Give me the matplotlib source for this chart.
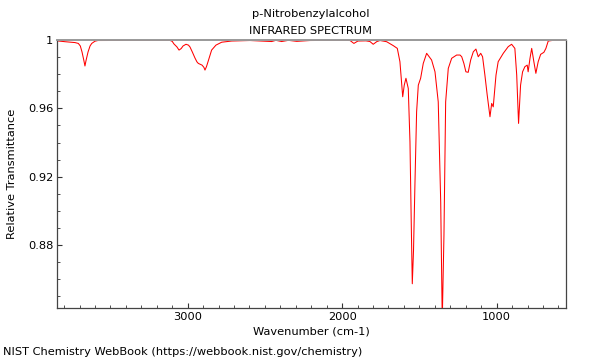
import matplotlib
matplotlib.use("Agg")
import matplotlib.pyplot as plt
from matplotlib.ticker import MultipleLocator, FuncFormatter

# spectrum (wavenumber cm-1, relative transmittance)
wavenumber = [3844, 3794, 3730, 3708, 3695, 3684, 3672, 3665, 3658, 3645,
              3632, 3621, 3600, 3581, 3115, 3100, 3089, 3070,
              3056, 3042, 3030, 3011, 2995, 2985, 2970, 2953, 2940, 2931, 2907, 2895, 2888,
              2878, 2869, 2845,
              2817, 2780, 2715, 2597, 2456, 2429, 2392, 2348, 2294, 2208,
              2014, 1949, 1924, 1898, 1846, 1820, 1799, 1775, 1755, 1712,
              1669, 1643, 1626, 1608, 1598, 1587, 1572, 1561, 1553, 1546,
              1538, 1529, 1518, 1507, 1492, 1475, 1453, 1421, 1399, 1378,
              1362, 1352, 1341, 1330, 1313, 1291, 1259, 1237, 1226, 1212,
              1199, 1184, 1168, 1151, 1134, 1119, 1103, 1091, 1076, 1061,
              1043, 1032, 1022, 1004, 990, 957, 925, 903, 882, 870,
              858, 845, 832, 817, 802, 796, 784, 773, 759, 746,
              731, 715, 694, 681, 666, 634, 553]
transmittance = [0.9995, 0.999, 0.9985, 0.998, 0.9965, 0.993, 0.988, 0.9848, 0.988, 0.993,
                 0.9965, 0.998, 0.9993, 0.9997, 0.9998, 0.9992, 0.9977, 0.996,
                 0.9941, 0.995, 0.9965, 0.9975, 0.997, 0.9959, 0.993, 0.9895, 0.9872, 0.9863, 0.9853, 0.984, 0.9824,
                 0.9845, 0.9871, 0.9941,
                 0.997, 0.9987, 0.9994, 0.9997, 0.9991, 0.9998, 0.9991, 0.9998, 0.9992, 0.9997,
                 0.9998, 0.9997, 0.998, 0.9994, 0.9995, 0.9991, 0.9975, 0.9991, 0.9997, 0.999,
                 0.9967, 0.9951, 0.9873, 0.9668, 0.9736, 0.9776, 0.9717, 0.9405, 0.8945, 0.8574,
                 0.877, 0.915, 0.958, 0.9736, 0.9776, 0.9863, 0.9922, 0.9883, 0.9814, 0.9638,
                 0.9052, 0.836, 0.8857, 0.9638, 0.9834, 0.9893, 0.9912, 0.9912, 0.9902, 0.9863,
                 0.9814, 0.9811, 0.9883, 0.9931, 0.9947, 0.9902, 0.9922, 0.9902, 0.9795, 0.9678,
                 0.9551, 0.9629, 0.9609, 0.9795, 0.9873, 0.9922, 0.9961, 0.9975, 0.9951, 0.9795,
                 0.9512, 0.9736, 0.9814, 0.9844, 0.9853, 0.9814, 0.9893, 0.9951, 0.9873, 0.9805,
                 0.9873, 0.9916, 0.9928, 0.9951, 0.9994, 0.9998, 1.0]

fig = plt.figure(figsize=(6, 3.6), dpi=100)
ax = fig.add_axes((0.0955, 0.1453, 0.8473, 0.7436))

ax.plot(wavenumber, transmittance, color='red', lw=0.75)

ax.set_xlim(3844, 553)
ax.set_ylim(0.8434, 1.0)

ax.xaxis.set_major_locator(MultipleLocator(1000))
ax.xaxis.set_minor_locator(MultipleLocator(100))
ax.yaxis.set_major_locator(MultipleLocator(0.04))
ax.yaxis.set_minor_locator(MultipleLocator(0.01))
ax.yaxis.set_major_formatter(FuncFormatter(lambda v, p: '%g' % round(v, 4)))

fs = 8.2
ax.tick_params(which='both', direction='in', labelsize=fs, color='#333333', pad=3)
ax.tick_params(which='major', length=3.5, width=0.8)
ax.tick_params(which='minor', length=2, width=0.6)
ax.tick_params(top=False, right=False)

for s in ['left', 'bottom', 'right']:
    ax.spines[s].set_color('#444444')
    ax.spines[s].set_linewidth(0.9)
ax.spines['top'].set_color('#999999')
ax.spines['top'].set_linewidth(1.4)

ax.set_xlabel('Wavenumber (cm-1)', fontsize=fs, labelpad=3.5)
ax.set_ylabel('Relative Transmittance', fontsize=fs, labelpad=8)

fig.text(0.5175, 0.962, 'p-Nitrobenzylalcohol', ha='center', va='center', fontsize=fs)
fig.text(0.5175, 0.915, 'INFRARED SPECTRUM', ha='center', va='center', fontsize=fs)
fig.text(0.005, 0.022, 'NIST Chemistry WebBook (https://webbook.nist.gov/chemistry)',
         ha='left', va='center', fontsize=fs)

fig.savefig('out.png', dpi=100)
